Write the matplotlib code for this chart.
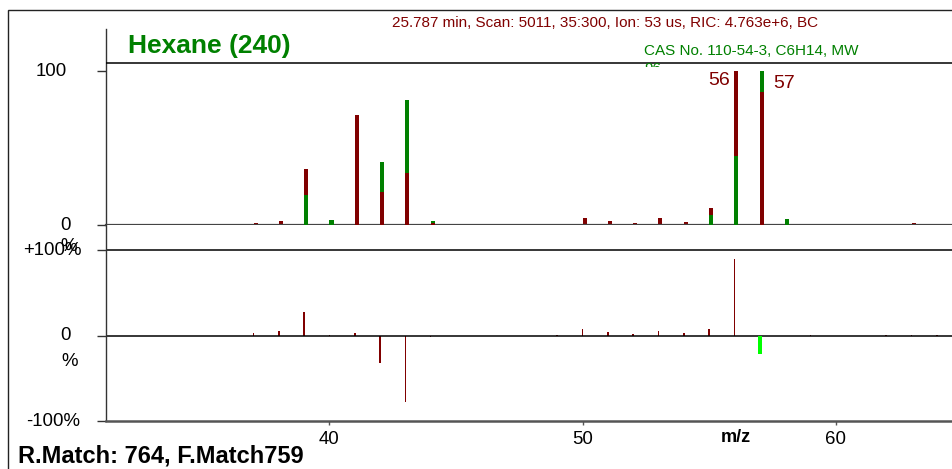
import numpy as np
import matplotlib
matplotlib.use("Agg")
import matplotlib.pyplot as plt
from matplotlib.patches import Rectangle
from matplotlib.transforms import Bbox, TransformedBbox

plt.rcParams["font.family"] = ["Liberation Sans", "DejaVu Sans"]

# spectrum data (m/z, relative abundance %)
mz = [37, 38, 39, 40, 41, 42, 43, 44, 49, 50, 51, 52, 53, 54, 55, 56, 57, 58, 59, 62, 63, 64]
sample = [1.3, 2.8, 36.4, 3.2, 71.4, 21.4, 33.8, 1.3, 0.9, 4.5, 2.6, 1.1, 4.5, 1.9,
          10.8, 100, 86.4, 4.1, 0.9, 0.7, 1.3, 0.5]
library = [0, 0, 19.5, 3.0, 71.4, 40.9, 81.2, 2.6, 0, 0, 0, 0, 0, 0,
           6.5, 45, 100, 4.0, 0, 0, 0, 0]
difference = [2.7, 5, 28, 0.5, 2.7, -31.7, -78, -2, 1.2, 7.4, 4.3, 1.5, 5.5, 2.7,
              7.4, 90, -21.5, -0.5, 1, 1, 1.2, 0.5]
peak_labels = [56, 57]

header = "25.787 min, Scan: 5011, 35:300, Ion: 53 us, RIC: 4.763e+6, BC"
compound = "Hexane (240)"
cas_info = "CAS No. 110-54-3, C6H14, MW"
mw = "96"
match_info = "R.Match: 764, F.Match759"

RED = "#800000"
GREEN = "#008000"
LIME = "#00ff00"

W, H = 952, 469
fig = plt.figure(figsize=(W / 100, H / 100), dpi=100)


def rect(x0, y0, x1, y1):
    return [x0 / W, 1 - y1 / H, (x1 - x0) / W, (y1 - y0) / H]


def fx(px):
    return px / W


def fy(py):
    return 1 - py / H


XLIM = (31.17, 64.6)
ax_top = fig.add_axes(rect(106, 29, 952, 225))
ax_bot = fig.add_axes(rect(106, 225, 952, 421))

mz_a = np.array(mz)
s = np.array(sample)
l = np.array(library)

# taller bar first, shorter one drawn over it (sample wins a tie)
tall = np.maximum(s, l)
short = np.minimum(s, l)
tall_c = np.where(s > l, RED, GREEN)
short_c = np.where(s > l, GREEN, RED)
ax_top.bar(mz_a, tall, width=0.16, align="edge", color=tall_c, zorder=2)
ax_top.bar(mz_a, short, width=0.16, align="edge", color=short_c, zorder=3)

for m in peak_labels:
    i = mz.index(m)
    top = max(sample[i], library[i])
    if m == peak_labels[0]:
        ax_top.annotate(str(m), (m, top), xytext=(-3, -10), textcoords="offset points",
                        ha="right", va="baseline", fontsize=14, color=RED)
    else:
        ax_top.annotate(str(m), (m, top), xytext=(9.6, -12.2), textcoords="offset points",
                        ha="left", va="baseline", fontsize=14, color=RED)

ax_top.set_xlim(*XLIM)
ax_top.set_ylim(0, 127.3)
ax_top.axhline(105.2, color="black", lw=1.1, zorder=4)
for sp in ["top", "right"]:
    ax_top.spines[sp].set_visible(False)
ax_top.spines["left"].set_color("#333333")
ax_top.spines["left"].set_linewidth(1.0)
ax_top.spines["bottom"].set_color("#444444")
ax_top.spines["bottom"].set_linewidth(1.6)
ax_top.set_xticks([])
ax_top.set_yticks([0, 100])
ax_top.tick_params(axis="y", length=6.5, width=1, color="#333333", labelleft=False)

# difference panel
d = np.array(difference)
ax_bot.bar(mz_a, d, width=0.06, color=RED, zorder=2)
base = int(np.argmax(l))
ax_bot.bar(mz_a[base], d[base], width=0.16, color=LIME, zorder=3)
ax_bot.set_xlim(*XLIM)
ax_bot.set_ylim(-100, 129.8)
ax_bot.axhline(100, color="black", lw=1.1)
ax_bot.axhline(0, color="black", lw=1.1)
for sp in ["top", "right"]:
    ax_bot.spines[sp].set_visible(False)
ax_bot.spines["left"].set_color("#333333")
ax_bot.spines["left"].set_linewidth(1.0)
ax_bot.spines["bottom"].set_color("#555555")
ax_bot.spines["bottom"].set_linewidth(1.8)
ax_bot.set_xticks([40, 50, 60])
ax_bot.tick_params(axis="x", length=3, width=1, color="#555555", pad=4, labelsize=13.4)
ax_bot.set_yticks([-100, 0, 100])
ax_bot.tick_params(axis="y", length=6.5, width=1, color="#333333", labelleft=False)
ax_bot.set_xlabel("m/z", fontsize=13, fontweight="bold")
ax_bot.xaxis.set_label_coords((736 - 106) / 846, -0.04)

# y labels (right edge in pixels)
for ax, labels in [(ax_top, [(100, "100", 67), (0, "0", 71)]),
                   (ax_bot, [(100, "+100%", 82), (0, "0", 71), (-100, "-100%", 80)])]:
    for yv, txt, xr in labels:
        ax.text((xr - 106) / 846, yv, txt, transform=ax.get_yaxis_transform(),
                ha="right", va="center", fontsize=13.4, clip_on=False)
fig.text(fx(69), fy(246), "%", ha="center", va="center", fontsize=13.4)
fig.text(fx(69.5), fy(361), "%", ha="center", va="center", fontsize=13.4)

# header texts
fig.text(fx(392), fy(27), header, ha="left", va="baseline", fontsize=11, color=RED)
fig.text(fx(128), fy(53), compound, ha="left", va="baseline", fontsize=19,
         fontweight="bold", color=GREEN)
fig.text(fx(644), fy(55), cas_info, ha="left", va="baseline", fontsize=11, color=GREEN)
t = fig.text(fx(644), fy(73), mw, ha="left", va="baseline", fontsize=11, color=GREEN)
t.set_clip_box(TransformedBbox(Bbox.from_extents(0, fy(67), 1, 1), fig.transFigure))
t.set_clip_on(True)
fig.text(fx(18), fy(462), match_info, ha="left", va="baseline", fontsize=17,
         fontweight="bold", color="black")

# outer frame
fig.patches.append(Rectangle((fx(8), fy(480)), fx(960) - fx(8), fy(10) - fy(480),
                             transform=fig.transFigure, fill=False, lw=1.0,
                             edgecolor="#222222"))

fig.savefig("out.png", dpi=100)
